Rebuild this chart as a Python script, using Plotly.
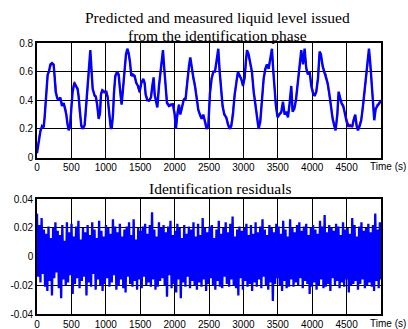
import numpy as np
import plotly.graph_objects as go
from plotly.subplots import make_subplots

# ---------------- data ----------------
time_level = [
    0, 15, 29, 48, 73, 97, 111, 126, 140, 155,
    174, 194, 218, 242, 257, 271, 291, 315, 339, 363,
    388, 412, 426, 441, 460, 480, 499, 518, 543, 572,
    591, 606, 620, 644, 668, 693, 717, 741, 760, 775,
    790, 809, 833, 857, 877, 896, 916, 930, 949, 979,
    1008, 1027, 1046, 1071, 1085, 1104, 1119, 1138, 1163, 1187,
    1206, 1230, 1250, 1274, 1293, 1313, 1332, 1351, 1371, 1395,
    1419, 1443, 1468, 1492, 1516, 1545, 1565, 1579, 1603, 1632,
    1657, 1676, 1695, 1710, 1729, 1749, 1773, 1797, 1817, 1831,
    1850, 1870, 1889, 1918, 1947, 1976, 2001, 2020, 2039, 2064,
    2083, 2107, 2131, 2160, 2185, 2209, 2228, 2248, 2272, 2296,
    2320, 2345, 2369, 2393, 2417, 2441, 2466, 2490, 2514, 2538,
    2563, 2587, 2611, 2635, 2655, 2674, 2698, 2722, 2752, 2776,
    2800, 2824, 2848, 2873, 2897, 2921, 2945, 2969, 2994, 3018,
    3037, 3052, 3076, 3100, 3124, 3149, 3173, 3197, 3221, 3245,
    3270, 3294, 3318, 3342, 3367, 3391, 3415, 3435, 3454, 3473,
    3497, 3527, 3551, 3575, 3599, 3623, 3648, 3672, 3696, 3715,
    3740, 3764, 3788, 3812, 3841, 3866, 3890, 3914, 3938, 3962,
    3987, 4011, 4035, 4059, 4084, 4108, 4127, 4151, 4176, 4200,
    4224, 4248, 4273, 4297, 4321, 4340, 4365, 4384, 4403, 4427,
    4452, 4476, 4500, 4524, 4554, 4583, 4607, 4626, 4646, 4665,
    4689, 4713, 4738, 4762, 4786, 4805, 4825, 4844, 4863, 4883,
    4902, 4922, 4946, 4970, 5000,
]

measured_level = [
    0.03, 0.08, 0.12, 0.18, 0.22, 0.21, 0.28, 0.40, 0.52, 0.58,
    0.60, 0.65, 0.66, 0.65, 0.56, 0.46, 0.42, 0.40, 0.42, 0.36,
    0.38, 0.34, 0.30, 0.24, 0.19, 0.22, 0.35, 0.46, 0.52, 0.50,
    0.48, 0.42, 0.32, 0.22, 0.20, 0.23, 0.38, 0.55, 0.68, 0.75,
    0.63, 0.48, 0.44, 0.42, 0.36, 0.27, 0.31, 0.44, 0.47, 0.46,
    0.46, 0.42, 0.33, 0.21, 0.20, 0.30, 0.45, 0.57, 0.60, 0.58,
    0.48, 0.37, 0.48, 0.63, 0.72, 0.76, 0.73, 0.67, 0.57, 0.58,
    0.57, 0.52, 0.50, 0.46, 0.52, 0.55, 0.52, 0.44, 0.40, 0.40,
    0.42, 0.50, 0.56, 0.44, 0.40, 0.35, 0.50, 0.62, 0.70, 0.75,
    0.62, 0.46, 0.38, 0.36, 0.37, 0.37, 0.30, 0.20, 0.30, 0.37,
    0.30, 0.35, 0.40, 0.41, 0.55, 0.64, 0.70, 0.62, 0.56, 0.50,
    0.40, 0.33, 0.30, 0.27, 0.30, 0.25, 0.20, 0.22, 0.45, 0.55,
    0.60, 0.60, 0.67, 0.76, 0.60, 0.46, 0.36, 0.30, 0.28, 0.23,
    0.20, 0.22, 0.30, 0.44, 0.54, 0.60, 0.57, 0.55, 0.50, 0.56,
    0.68, 0.75, 0.72, 0.65, 0.60, 0.46, 0.36, 0.27, 0.20, 0.25,
    0.40, 0.55, 0.62, 0.65, 0.62, 0.70, 0.76, 0.60, 0.46, 0.36,
    0.28, 0.30, 0.32, 0.39, 0.30, 0.32, 0.28, 0.38, 0.50, 0.32,
    0.34, 0.40, 0.52, 0.64, 0.75, 0.65, 0.76, 0.62, 0.58, 0.60,
    0.50, 0.45, 0.43, 0.46, 0.55, 0.74, 0.72, 0.64, 0.60, 0.57,
    0.52, 0.45, 0.35, 0.27, 0.22, 0.19, 0.30, 0.46, 0.42, 0.38,
    0.36, 0.30, 0.25, 0.22, 0.22, 0.22, 0.27, 0.30, 0.22, 0.19,
    0.22, 0.26, 0.36, 0.47, 0.57, 0.67, 0.76, 0.66, 0.52, 0.38,
    0.26, 0.34, 0.36, 0.38, 0.40,
]

predicted_level = [
    0.04, 0.09, 0.12, 0.19, 0.21, 0.22, 0.29, 0.41, 0.53, 0.57,
    0.61, 0.64, 0.66, 0.64, 0.55, 0.47, 0.41, 0.41, 0.41, 0.37,
    0.37, 0.35, 0.29, 0.25, 0.20, 0.21, 0.36, 0.47, 0.53, 0.49,
    0.47, 0.43, 0.31, 0.23, 0.21, 0.22, 0.39, 0.56, 0.67, 0.73,
    0.62, 0.49, 0.43, 0.43, 0.35, 0.28, 0.30, 0.45, 0.46, 0.45,
    0.45, 0.43, 0.32, 0.22, 0.21, 0.29, 0.46, 0.56, 0.59, 0.57,
    0.47, 0.38, 0.47, 0.64, 0.71, 0.74, 0.72, 0.66, 0.58, 0.57,
    0.56, 0.53, 0.49, 0.45, 0.53, 0.54, 0.51, 0.45, 0.41, 0.39,
    0.43, 0.49, 0.55, 0.45, 0.41, 0.36, 0.49, 0.63, 0.69, 0.73,
    0.61, 0.47, 0.39, 0.37, 0.36, 0.38, 0.31, 0.22, 0.29, 0.36,
    0.31, 0.34, 0.41, 0.42, 0.54, 0.63, 0.69, 0.63, 0.55, 0.51,
    0.41, 0.34, 0.29, 0.28, 0.29, 0.26, 0.21, 0.23, 0.44, 0.56,
    0.59, 0.61, 0.66, 0.74, 0.61, 0.47, 0.35, 0.31, 0.27, 0.24,
    0.21, 0.23, 0.31, 0.43, 0.53, 0.59, 0.58, 0.54, 0.51, 0.55,
    0.67, 0.73, 0.71, 0.66, 0.59, 0.47, 0.37, 0.28, 0.21, 0.26,
    0.41, 0.54, 0.61, 0.64, 0.63, 0.69, 0.74, 0.61, 0.47, 0.35,
    0.29, 0.31, 0.31, 0.38, 0.31, 0.31, 0.29, 0.37, 0.49, 0.33,
    0.35, 0.41, 0.51, 0.63, 0.73, 0.66, 0.74, 0.63, 0.59, 0.59,
    0.51, 0.46, 0.44, 0.45, 0.56, 0.73, 0.71, 0.65, 0.59, 0.58,
    0.51, 0.46, 0.36, 0.28, 0.23, 0.20, 0.29, 0.45, 0.43, 0.37,
    0.35, 0.31, 0.26, 0.23, 0.23, 0.21, 0.28, 0.29, 0.23, 0.20,
    0.23, 0.27, 0.35, 0.46, 0.58, 0.66, 0.74, 0.65, 0.53, 0.39,
    0.27, 0.33, 0.37, 0.37, 0.39,
]

residuals = [
    0.030, -0.014, 0.022, -0.018, 0.027, -0.012, 0.019, -0.021, 0.016, -0.024,
    0.021, -0.017, 0.013, -0.027, 0.020, -0.015, 0.024, -0.011, 0.018, -0.022,
    0.015, -0.029, 0.022, -0.016, 0.011, -0.020, 0.024, -0.018, 0.017, -0.013,
    0.023, -0.026, 0.014, -0.019, 0.021, -0.015, 0.025, -0.022, 0.012, -0.017,
    0.020, -0.014, 0.017, -0.027, 0.022, -0.018, 0.015, -0.021, 0.024, -0.012,
    0.019, -0.023, 0.013, -0.016, 0.025, -0.020, 0.018, -0.024, 0.014, -0.019,
    0.022, -0.015, 0.020, -0.021, 0.016, -0.018, 0.026, -0.013, 0.021, -0.023,
    0.017, -0.020, 0.023, -0.016, 0.014, -0.022, 0.019, -0.025, 0.021, -0.014,
    0.024, -0.019, 0.015, -0.021, 0.026, -0.017, 0.012, -0.023, 0.020, -0.016,
    0.018, -0.022, 0.021, -0.014, 0.023, -0.020, 0.016, -0.018, 0.022, -0.021,
    0.031, -0.016, 0.019, -0.023, 0.014, -0.021, 0.024, -0.017, 0.020, -0.015,
    0.022, -0.020, 0.017, -0.028, 0.021, -0.013, 0.025, -0.022, 0.015, -0.019,
    0.018, -0.025, 0.023, -0.016, 0.020, -0.029, 0.013, -0.018, 0.022, -0.021,
    0.016, -0.014, 0.021, -0.022, 0.019, -0.017, 0.024, -0.020, 0.014, -0.023,
    0.023, -0.018, 0.015, -0.021, 0.027, -0.016, 0.020, -0.024, 0.017, -0.019,
    0.021, -0.015, 0.022, -0.020, 0.013, -0.023, 0.019, -0.017, 0.025, -0.021,
    0.016, -0.022, 0.020, -0.014, 0.024, -0.019, 0.017, -0.021, 0.023, -0.016,
    0.028, -0.020, 0.014, -0.022, 0.019, -0.027, 0.021, -0.015, 0.018, -0.023,
    0.020, -0.017, 0.023, -0.021, 0.015, -0.019, 0.022, -0.024, 0.016, -0.018,
    0.024, -0.021, 0.017, -0.016, 0.021, -0.022, 0.026, -0.014, 0.019, -0.020,
    0.015, -0.023, 0.022, -0.018, 0.020, -0.031, 0.017, -0.019, 0.023, -0.015,
    0.021, -0.020, 0.016, -0.024, 0.025, -0.017, 0.019, -0.022, 0.014, -0.021,
    0.026, -0.016, 0.020, -0.021, 0.017, -0.018, 0.022, -0.020, 0.024, -0.015,
    0.018, -0.022, 0.021, -0.017, 0.023, -0.019, 0.015, -0.026, 0.020, -0.021,
    0.022, -0.018, 0.019, -0.023, 0.016, -0.020, 0.025, -0.016, 0.021, -0.022,
    0.029, -0.021, 0.017, -0.019, 0.022, -0.024, 0.020, -0.015, 0.018, -0.020,
    0.023, -0.017, 0.021, -0.022, 0.015, -0.018, 0.024, -0.021, 0.019, -0.016,
    0.020, -0.025, 0.016, -0.020, 0.027, -0.019, 0.022, -0.017, 0.014, -0.023,
    0.021, -0.019, 0.024, -0.016, 0.018, -0.022, 0.020, -0.020, 0.023, -0.018,
    0.017, -0.021, 0.022, -0.024, 0.030, -0.017, 0.019, -0.022, 0.024, -0.016,
]
time_resid = np.linspace(0, 5000, len(residuals))

x_ticks = [0, 500, 1000, 1500, 2000, 2500, 3000, 3500, 4000, 4500]
level_ticks = [0, 0.2, 0.4, 0.6, 0.8]
level_tick_text = ["0", "0.2", "0.4", "0.6", "0.8"]
resid_ticks = [-0.04, -0.02, 0, 0.02, 0.04]
resid_tick_text = ["-0.04", "-0.02", "0", "0.02", "0.04"]

assert len(time_level) == len(measured_level) == len(predicted_level)

# ---------------- figure ----------------
W, H = 408, 329
ML, MR, MT, MB = 37, 27, 43, 15
plot_h = H - MT - MB
plot_w = W - ML - MR

fig = make_subplots(rows=2, cols=1, vertical_spacing=0.0)

fig.add_trace(go.Scatter(x=time_level, y=predicted_level, mode="lines",
                         line=dict(color="#ff0000", width=1.5), showlegend=False),
              row=1, col=1)
fig.add_trace(go.Scatter(x=time_level, y=measured_level, mode="lines",
                         line=dict(color="#0000ff", width=2.4), showlegend=False),
              row=1, col=1)
fig.add_trace(go.Scatter(x=time_resid, y=residuals, mode="lines",
                         line=dict(color="#0000ff", width=2.3), showlegend=False),
              row=2, col=1)

tickfont = dict(family="Liberation Sans, Arial, sans-serif", size=10, color="#000")
axis_common = dict(showline=True, mirror=True, linecolor="#000", linewidth=1.6,
                   showgrid=True, gridcolor="#000", gridwidth=1.2,
                   zeroline=False, ticks="", tickfont=tickfont)

top_bottom_px = 157.5
res_top_px = 199.3
fig.update_layout(
    xaxis=dict(domain=[0, 1], range=[0, 5000], tickvals=x_ticks, **axis_common),
    yaxis=dict(domain=[(H - MB - top_bottom_px) / plot_h, 1], range=[0, 0.8],
               tickvals=level_ticks, ticktext=level_tick_text, **axis_common),
    xaxis2=dict(domain=[0, 1], range=[0, 5000], tickvals=x_ticks, **axis_common),
    yaxis2=dict(domain=[0, (H - MB - res_top_px) / plot_h], range=[-0.04, 0.04],
                tickvals=resid_ticks, ticktext=resid_tick_text, **axis_common),
)

def py(px):
    return (H - MB - px) / plot_h

def pxx(px):
    return (px - ML) / plot_w

title_font = dict(family="Liberation Serif, Times New Roman, serif", size=15.5, color="#000")
fig.add_annotation(text="Predicted and measured liquid level issued", xref="paper", yref="paper",
                   x=pxx(217), y=py(17.5), xanchor="center", yanchor="middle", showarrow=False, font=title_font)
fig.add_annotation(text="from the identification phase", xref="paper", yref="paper",
                   x=pxx(217), y=py(35.5), xanchor="center", yanchor="middle", showarrow=False, font=title_font)
fig.add_annotation(text="Identification residuals", xref="paper", yref="paper",
                   x=pxx(220), y=py(188.5), xanchor="center", yanchor="middle",
                   showarrow=False, font=title_font)

for yy in (166, 323):
    fig.add_annotation(text="Time (s)", xref="paper", yref="paper",
                       x=pxx(407), y=py(yy), xanchor="right", yanchor="middle",
                       showarrow=False, font=tickfont, borderpad=0)

fig.update_layout(width=W, height=H, margin=dict(l=ML, r=MR, t=MT, b=MB, autoexpand=False),
                  paper_bgcolor="white", plot_bgcolor="white", showlegend=False)

fig.write_html("out.html", config={"displayModeBar": False},
               post_script="document.body.style.margin='0';document.body.style.overflow='hidden';")
